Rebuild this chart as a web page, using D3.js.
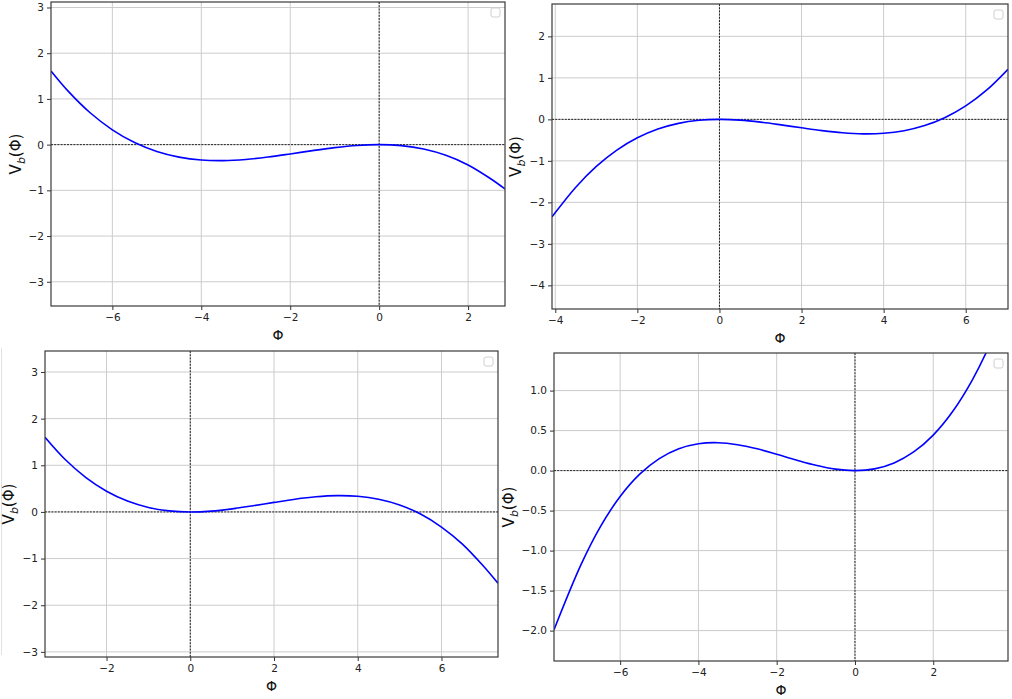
<!DOCTYPE html>
<html>
<head>
<meta charset="utf-8">
<script src="https://cdn.jsdelivr.net/npm/d3@7"></script>
<style>
  body { margin: 0; background: #fff; }
  text { font-family: "DejaVu Sans", sans-serif; }
</style>
</head>
<body>
<svg id="chart" width="1012" height="699"></svg>
<script>
// values, one pair of arrays per panel
var phi1 = [-7.38, -7, -6.5, -6, -5.5, -5, -4.5, -4, -3.5, -3, -2.5, -2, -1.5, -1, -0.5, 0, 0.5, 1, 1.5, 2, 2.5, 2.83]
var vb1 = [1.612, 1.176, 0.697, 0.324, 0.045, -0.150, -0.273, -0.336, -0.349, -0.324, -0.272, -0.204, -0.132, -0.066, -0.018, 0, -0.022, -0.096, -0.233, -0.444, -0.741, -0.970]

var phi2 = [-4.08, -3.5, -3, -2.5, -2, -1.5, -1, -0.5, 0, 0.5, 1, 1.5, 2, 2.5, 3, 3.5, 4, 4.5, 5, 5.5, 6, 6.5, 7.03]
var vb2 = [-2.350, -1.635, -1.134, -0.741, -0.444, -0.233, -0.096, -0.022, 0, -0.018, -0.066, -0.132, -0.204, -0.272, -0.324, -0.349, -0.336, -0.273, -0.150, 0.045, 0.324, 0.697, 1.208]

var phi3 = [-3.47, -3, -2.5, -2, -1.5, -1, -0.5, 0, 0.5, 1, 1.5, 2, 2.5, 3, 3.5, 4, 4.5, 5, 5.5, 6, 6.5, 7, 7.35]
var vb3 = [1.600, 1.134, 0.741, 0.444, 0.233, 0.096, 0.022, 0, 0.018, 0.066, 0.132, 0.204, 0.272, 0.324, 0.349, 0.336, 0.273, 0.150, -0.045, -0.324, -0.690, -1.160, -1.530]

var phi4 = [-7.69, -7, -6.5, -6, -5.5, -5, -4.5, -4, -3.5, -3, -2.5, -2, -1.5, -1, -0.5, 0, 0.5, 1, 1.5, 2, 2.5, 3, 3.5, 4]
var vb4 = [-1.990, -1.176, -0.697, -0.324, -0.045, 0.150, 0.273, 0.336, 0.349, 0.324, 0.272, 0.204, 0.132, 0.066, 0.018, 0, 0.022, 0.096, 0.233, 0.444, 0.741, 1.134, 1.635, 2.256]

var xTicks1 = [-6, -4, -2, 0, 2]
var yTicks1 = [-3, -2, -1, 0, 1, 2, 3]
var xTicks2 = [-4, -2, 0, 2, 4, 6]
var yTicks2 = [-4, -3, -2, -1, 0, 1, 2]
var xTicks3 = [-2, 0, 2, 4, 6]
var yTicks3 = [-3, -2, -1, 0, 1, 2, 3]
var xTicks4 = [-6, -4, -2, 0, 2]
var yTicks4 = [-2, -1.5, -1, -0.5, 0, 0.5, 1]

var intFmt = d3.format("d")
var panels = [
    {phi: phi1, vb: vb1, xDom: [-7.38, 2.83], yDom: [-3.53, 3.12], box: [51, 2, 505, 306],
     xTicks: xTicks1, yTicks: yTicks1, yFmt: intFmt, ylabX: 16},
    {phi: phi2, vb: vb2, xDom: [-4.08, 7.03], yDom: [-4.57, 2.78], box: [552, 4, 1008, 309],
     xTicks: xTicks2, yTicks: yTicks2, yFmt: intFmt, ylabX: 516},
    {phi: phi3, vb: vb3, xDom: [-3.47, 7.35], yDom: [-3.11, 3.45], box: [45, 351, 498, 657],
     xTicks: xTicks3, yTicks: yTicks3, yFmt: intFmt, ylabX: 9},
    {phi: phi4, vb: vb4, xDom: [-7.69, 3.91], yDom: [-2.38, 1.47], box: [554, 353, 1008, 661],
     xTicks: xTicks4, yTicks: yTicks4, yFmt: d3.format(".1f"), ylabX: 509}
]

var svg = d3.select('#chart')

// faint edge of a neighbouring figure, bottom-left
svg.append('line')
    .attr('x1', 1.5).attr('x2', 1.5)
    .attr('y1', 348).attr('y2', 655)
    .attr('stroke', '#e2e2e2')

panels.forEach(function(p, i) {
    var x0 = p.box[0], y0 = p.box[1], x1 = p.box[2], y1 = p.box[3]
    var w = x1 - x0, h = y1 - y0

    var x = d3.scaleLinear().domain(p.xDom).range([0, w])
    var y = d3.scaleLinear().domain(p.yDom).range([h, 0])

    var g = svg.append('g').attr('transform', 'translate(' + x0 + ',' + y0 + ')')

    g.append('clipPath').attr('id', 'clip' + i)
        .append('rect').attr('width', w).attr('height', h)

    // grid
    g.selectAll('.gx').data(p.xTicks).enter().append('line')
        .attr('x1', function(d) { return x(d) }).attr('x2', function(d) { return x(d) })
        .attr('y1', 0).attr('y2', h)
        .attr('stroke', '#cccccc').attr('stroke-width', 1)
    g.selectAll('.gy').data(p.yTicks).enter().append('line')
        .attr('y1', function(d) { return y(d) }).attr('y2', function(d) { return y(d) })
        .attr('x1', 0).attr('x2', w)
        .attr('stroke', '#cccccc').attr('stroke-width', 1)

    // dashed zero lines
    g.append('line')
        .attr('x1', 0).attr('x2', w).attr('y1', y(0)).attr('y2', y(0))
        .attr('stroke', '#222').attr('stroke-width', 1).attr('stroke-dasharray', '2,1.2')
    g.append('line')
        .attr('x1', x(0)).attr('x2', x(0)).attr('y1', 0).attr('y2', h)
        .attr('stroke', '#222').attr('stroke-width', 1).attr('stroke-dasharray', '2,1.2')

    // curve
    var line = d3.line()
        .x(function(d, j) { return x(p.phi[j]) })
        .y(function(d) { return y(d) })
        .curve(d3.curveCatmullRom)
    g.append('path')
        .datum(p.vb)
        .attr('clip-path', 'url(#clip' + i + ')')
        .attr('d', line)
        .attr('fill', 'none')
        .attr('stroke', '#0000ff')
        .attr('stroke-width', 1.6)

    // axes
    var ax = g.append('g').attr('transform', 'translate(0,' + h + ')')
        .call(d3.axisBottom(x).tickValues(p.xTicks).tickFormat(intFmt).tickSize(4).tickPadding(4))
    var ay = g.append('g')
        .call(d3.axisLeft(y).tickValues(p.yTicks).tickFormat(p.yFmt).tickSize(4).tickPadding(3))
    ;[ax, ay].forEach(function(a) {
        a.select('.domain').remove()
        a.selectAll('line').attr('stroke', '#333')
        a.selectAll('text').attr('fill', '#222').style('font-size', '10.5px')
            .style('font-family', '"DejaVu Sans", sans-serif')
    })

    // frame
    g.append('rect').attr('width', w).attr('height', h)
        .attr('fill', 'none').attr('stroke', '#3a3a3a').attr('stroke-width', 1.2)

    // empty legend box
    g.append('rect')
        .attr('x', w - 14).attr('y', 6).attr('width', 9).attr('height', 9).attr('rx', 2)
        .attr('fill', '#fff').attr('stroke', '#d0d0d0')

    // labels
    g.append('text')
        .attr('x', w / 2).attr('y', h + 34)
        .attr('text-anchor', 'middle')
        .style('font-size', '14px').attr('fill', '#111')
        .text('Φ')

    var yl = svg.append('text')
        .attr('transform', 'translate(' + (p.ylabX + 5) + ',' + (y0 + h / 2) + ') rotate(-90)')
        .attr('text-anchor', 'middle')
        .style('font-size', '15px').attr('fill', '#111')
    yl.append('tspan').text('V')
    yl.append('tspan').attr('font-style', 'italic').attr('dy', 4).style('font-size', '11px').text('b')
    yl.append('tspan').attr('dy', -4).text('(Φ)')
})
</script>
</body>
</html>
